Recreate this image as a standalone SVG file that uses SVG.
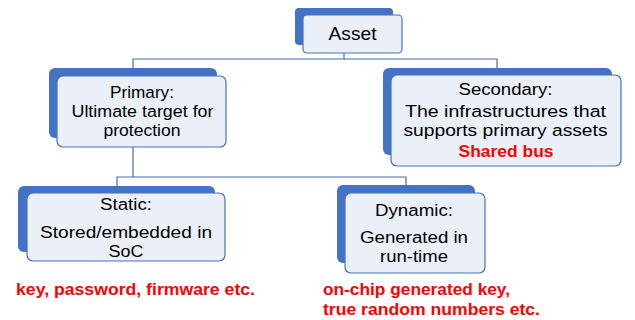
<svg xmlns="http://www.w3.org/2000/svg" width="635" height="320" viewBox="0 0 635 320">
<style>
.back{fill:#4472C4;}
.front{fill:#EBEFF8;stroke:#4472C4;stroke-width:1.2;}
.conn{fill:none;stroke:#4A6BA8;stroke-width:1.2;}
.t{font-family:"Liberation Sans",Arial,sans-serif;font-size:16.8px;fill:#000;text-anchor:middle;}
.r{font-family:"Liberation Sans",Arial,sans-serif;font-size:16.5px;font-weight:bold;fill:#FF0000;}
</style>
<rect x="0" y="0" width="635" height="320" fill="#fff"/>
<g id="connectors">
<path class="conn" d="M344,53 V59 H133 V76"/>
<path class="conn" d="M344,59 H497 V68"/>
<path class="conn" d="M133,147 V177 H117 V186"/>
<path class="conn" d="M133,177 H406 V185"/>
</g>
<g id="asset">
<rect class="back" x="295" y="8" width="98" height="37" rx="4"/>
<rect class="front" x="303" y="15" width="99" height="38" rx="4"/>
<text class="t" x="352.5" y="39.5" style="font-size:19px" textLength="48" lengthAdjust="spacingAndGlyphs">Asset</text>
</g>
<g id="primary">
<rect class="back" x="49" y="68" width="168" height="70" rx="6"/>
<rect class="front" x="57" y="76" width="169" height="71" rx="6"/>
<text class="t" x="142" y="97.5" textLength="64" lengthAdjust="spacingAndGlyphs">Primary:</text>
<text class="t" x="142.5" y="116.5" textLength="142" lengthAdjust="spacingAndGlyphs">Ultimate target for</text>
<text class="t" x="142" y="135.5" textLength="77" lengthAdjust="spacingAndGlyphs">protection</text>
</g>
<g id="secondary">
<rect class="back" x="383" y="68" width="229" height="87" rx="6"/>
<rect class="front" x="391" y="75" width="230" height="91" rx="6"/>
<text class="t" x="505.5" y="94.5" textLength="94" lengthAdjust="spacingAndGlyphs">Secondary:</text>
<text class="t" x="505.5" y="116.5" textLength="201" lengthAdjust="spacingAndGlyphs">The infrastructures that</text>
<text class="t" x="505.5" y="136" textLength="204" lengthAdjust="spacingAndGlyphs">supports primary assets</text>
<text class="t" x="506" y="157" style="font-weight:bold;fill:#FF0000" textLength="95" lengthAdjust="spacingAndGlyphs">Shared bus</text>
</g>
<g id="static">
<rect class="back" x="18" y="186" width="197" height="66" rx="6"/>
<rect class="front" x="27" y="193" width="198" height="68" rx="6"/>
<text class="t" x="126" y="210" textLength="52" lengthAdjust="spacingAndGlyphs">Static:</text>
<text class="t" x="126" y="238" textLength="172" lengthAdjust="spacingAndGlyphs">Stored/embedded in</text>
<text class="t" x="126" y="257" textLength="35" lengthAdjust="spacingAndGlyphs">SoC</text>
</g>
<g id="dynamic">
<rect class="back" x="337" y="185" width="138" height="78" rx="6"/>
<rect class="front" x="345" y="193" width="140" height="80" rx="6"/>
<text class="t" x="414" y="216" textLength="78" lengthAdjust="spacingAndGlyphs">Dynamic:</text>
<text class="t" x="414" y="243" textLength="108" lengthAdjust="spacingAndGlyphs">Generated in</text>
<text class="t" x="414" y="262" textLength="68" lengthAdjust="spacingAndGlyphs">run-time</text>
</g>
<g id="notes">
<text class="r" x="16" y="295" textLength="239" lengthAdjust="spacingAndGlyphs">key, password, firmware etc.</text>
<text class="r" x="323" y="295" textLength="187" lengthAdjust="spacingAndGlyphs">on-chip generated key,</text>
<text class="r" x="323" y="315" textLength="217" lengthAdjust="spacingAndGlyphs">true random numbers etc.</text>
</g>
</svg>
